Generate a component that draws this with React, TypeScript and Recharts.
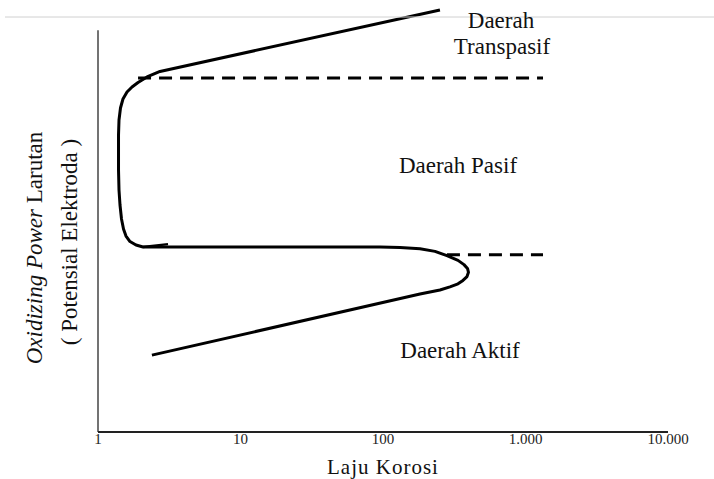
import { LineChart, Line, XAxis, YAxis, ReferenceLine } from "recharts"

// corrosion rate (log scale) vs potential (arbitrary units 0-100)
const curveX = [
  2.39, 181.8, 251, 295, 336, 364, 388.6, 398, 391.7, 370, 336, 281, 231.7,
  181.8, 131.6, 95.3, 2.069,
  1.848, 1.677, 1.572, 1.51, 1.462, 1.427, 1.404, 1.393, 1.393, 1.404, 1.438,
  1.497, 1.598, 1.733, 1.909, 2.207, 2.723, 251,
]
const curveY = [
  18.0, 32.3, 33.26, 34.0, 34.7, 35.5, 36.4, 37.4, 38.3, 39.2, 40.2, 41.3, 42.3,
  42.9, 43.2, 43.33, 43.33,
  43.79, 44.61, 45.9, 47.54, 49.88, 53.16, 56.67, 61.36, 69.56, 73.07, 75.88,
  77.99, 79.63, 80.8, 81.85, 83.14, 84.43, 98.83,
]

const hookX = [2.069, 3.1]
const hookY = [43.33, 44.0]

const transpasifX = [1.91, 1327]
const transpasifY = [82.9, 82.9]

const pasifX = [281, 1327]
const pasifY = [41.5, 41.5]

const tickValues = [1, 10, 100, 1000, 10000]
const tickLabels = ["1", "10", "100", "1.000", "10.000"]

const toRows = (xs: number[], ys: number[]) => xs.map((x, i) => ({ x, y: ys[i] }))

const serif = "Liberation Serif"

export default function App() {
  const curve = toRows(curveX, curveY)
  const hook = toRows(hookX, hookY)
  const dashTop = toRows(transpasifX, transpasifY)
  const dashLow = toRows(pasifX, pasifY)

  return (
    <div style={{ position: "absolute", left: 0, top: 0, width: 714, height: 479, background: "#fff" }}>
      <LineChart width={714} height={479} margin={{ top: 5, right: 46, bottom: 0, left: 98 }}>
        <XAxis
          dataKey="x"
          type="number"
          scale="log"
          domain={[1, 10000]}
          ticks={tickValues}
          allowDataOverflow
          height={47}
          tickLine={false}
          tickSize={0}
          tickMargin={1}
          interval={0}
          axisLine={{ stroke: "#222", strokeWidth: 2 }}
          tick={{ fontSize: 15, fill: "#222", fontFamily: serif }}
          tickFormatter={(v: number) => tickLabels[tickValues.indexOf(v)] ?? ""}
        />
        <YAxis dataKey="y" type="number" domain={[0, 100]} hide width={0} />

        <ReferenceLine
          segment={[{ x: 1, y: 0 }, { x: 1, y: 94.1 }]}
          stroke="#444"
          strokeWidth={1.5}
          ifOverflow="visible"
        />

        <Line
          data={curve}
          dataKey="y"
          type="linear"
          stroke="#000"
          strokeWidth={3}
          strokeLinejoin="round"
          dot={false}
          isAnimationActive={false}
        />
        <Line
          data={hook}
          dataKey="y"
          type="linear"
          stroke="#000"
          strokeWidth={2.5}
          dot={false}
          isAnimationActive={false}
        />
        <Line
          data={dashTop}
          dataKey="y"
          type="linear"
          stroke="#000"
          strokeWidth={3}
          strokeDasharray="13 8"
          dot={false}
          isAnimationActive={false}
        />
        <Line
          data={dashLow}
          dataKey="y"
          type="linear"
          stroke="#000"
          strokeWidth={3}
          strokeDasharray="13 8"
          dot={false}
          isAnimationActive={false}
        />
      </LineChart>

      <svg
        width={714}
        height={479}
        style={{ position: "absolute", left: 0, top: 0, pointerEvents: "none" }}
        fontFamily={serif}
        fill="#111"
      >
        <line x1={5} y1={17} x2={714} y2={17} stroke="#d0d0d0" strokeWidth={1} />
        <g fontSize={23} textAnchor="middle">
          <text x={501} y={28}>Daerah</text>
          <text x={502} y={54}>Transpasif</text>
          <text x={458} y={173}>Daerah Pasif</text>
          <text x={460} y={358}>Daerah Aktif</text>
          <text x={383} y={474} fontSize={21} letterSpacing={1}>Laju Korosi</text>
          <text transform="translate(42,248) rotate(-90)">
            <tspan fontStyle="italic">Oxidizing Power</tspan> Larutan
          </text>
          <text transform="translate(77,242) rotate(-90)">( Potensial Elektroda )</text>
        </g>
      </svg>
    </div>
  )
}
